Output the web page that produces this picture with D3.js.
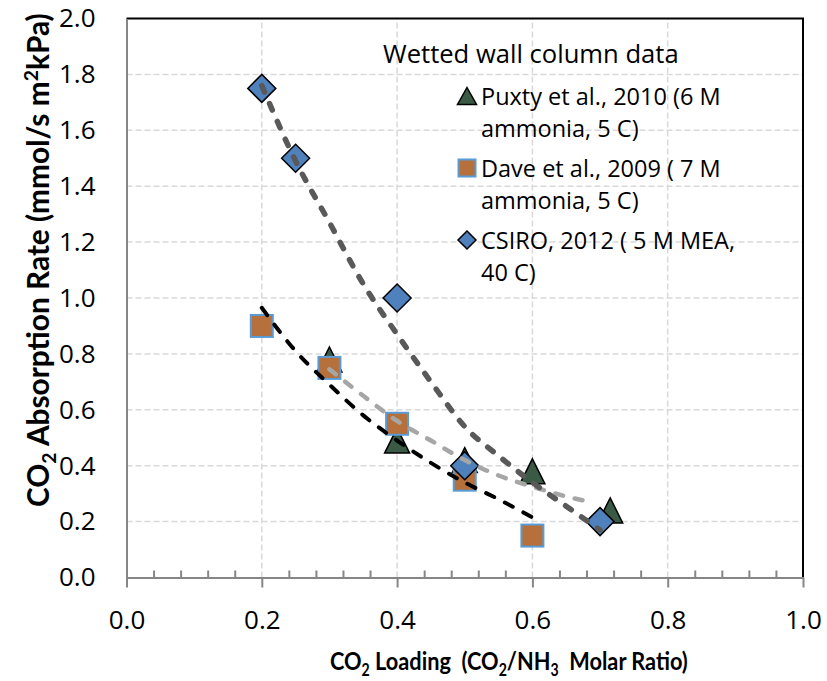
<!DOCTYPE html>
<html lang="en">
<head>
    <meta charset="UTF-8">
    <style>
        body { margin: 0; background: #fff; }
        .grid line { stroke: #d9d9d9; stroke-width: 1.5; stroke-dasharray: 6,3; }
        .tick text { font-family: "Open Sans", sans-serif; font-size: 26px; fill: #000; }
        .axis path, .axis line { stroke: #868686; stroke-width: 2; }
        .legend text { font-family: "Open Sans", sans-serif; fill: #000; }
        .title { font-family: Lato, sans-serif; font-weight: bold; fill: #000; }
    </style>
    <title>CO2 absorption rate</title>
</head>
<body>
<script src="https://d3js.org/d3.v7.min.js" charset="utf-8"></script>
<script>
    // data
    var puxtyX = [0.30, 0.40, 0.50, 0.60, 0.715];
    var puxtyY = [0.78, 0.49, 0.42, 0.38, 0.24];
    var daveX = [0.20, 0.30, 0.40, 0.50, 0.60];
    var daveY = [0.90, 0.75, 0.55, 0.35, 0.15];
    var csiroX = [0.20, 0.25, 0.40, 0.50, 0.70];
    var csiroY = [1.75, 1.50, 1.00, 0.40, 0.20];

    // trendlines as drawn in the source chart
    var trendCsiroX = [0.20, 0.25, 0.30, 0.35, 0.40, 0.45, 0.50, 0.55, 0.60, 0.65, 0.70];
    var trendCsiroY = [1.76, 1.49, 1.27, 1.05, 0.87, 0.70, 0.54, 0.435, 0.34, 0.255, 0.17];
    var trendDaveX = [0.20, 0.25, 0.30, 0.35, 0.40, 0.45, 0.50, 0.55, 0.60];
    var trendDaveY = [0.965, 0.81, 0.69, 0.58, 0.49, 0.41, 0.34, 0.28, 0.215];
    var trendPuxtyX = [0.30, 0.35, 0.40, 0.45, 0.50, 0.55, 0.60, 0.65, 0.69];
    var trendPuxtyY = [0.745, 0.65, 0.56, 0.49, 0.42, 0.365, 0.325, 0.29, 0.268];

    var xTicks = [0, 0.2, 0.4, 0.6, 0.8, 1.0];
    var yTicks = [0, 0.2, 0.4, 0.6, 0.8, 1.0, 1.2, 1.4, 1.6, 1.8, 2.0];

    var legendTitle = 'Wetted wall column data';
    var legendLines = [
        ['Puxty et al., 2010 (6 M', 'ammonia, 5 C)'],
        ['Dave et al., 2009 ( 7 M', 'ammonia, 5 C)'],
        ['CSIRO, 2012 ( 5 M MEA,', '40 C)']
    ];

    var width = 827, height = 681;
    var margin = {left: 126.5, top: 18.5, right: 24, bottom: 103.5};

    var svg = d3.select('body').append('svg').attr('width', width).attr('height', height);

    var x = d3.scaleLinear().domain([0, 1]).range([margin.left, width - margin.right]);
    var y = d3.scaleLinear().domain([0, 2]).range([height - margin.bottom, margin.top]);

    function zip(xs, ys) {
        return xs.map(function (v, i) { return [v, ys[i]]; });
    }

    // gridlines
    var grid = svg.append('g').attr('class', 'grid');
    grid.selectAll('.h').data(yTicks.slice(1, -1)).enter().append('line')
        .attr('x1', x(0)).attr('x2', x(1))
        .attr('y1', function (d) { return y(d); }).attr('y2', function (d) { return y(d); });
    grid.selectAll('.v').data(xTicks.slice(1, -1)).enter().append('line')
        .attr('y1', y(0)).attr('y2', y(2))
        .attr('x1', function (d) { return x(d); }).attr('x2', function (d) { return x(d); });

    // frame on top and right
    svg.append('path')
        .attr('d', 'M' + x(0) + ',' + y(2) + 'H' + x(1) + 'V' + y(0))
        .attr('fill', 'none').attr('stroke', '#000').attr('stroke-width', 2);

    // minor ticks on x axis
    svg.append('g').attr('class', 'axis')
        .attr('transform', 'translate(0,' + y(0) + ')')
        .call(d3.axisBottom(x).tickValues(d3.range(1, 25).filter(function (i) { return i % 5 !== 0; })
            .map(function (i) { return i * 0.04; })).tickSize(-7).tickFormat(''))
        .select('.domain').remove();

    var xAxis = svg.append('g').attr('class', 'axis')
        .attr('transform', 'translate(0,' + y(0) + ')')
        .call(d3.axisBottom(x).tickValues(xTicks).tickSize(10).tickSizeOuter(0)
            .tickPadding(23).tickFormat(d3.format('.1f')));

    var yAxis = svg.append('g').attr('class', 'axis')
        .attr('transform', 'translate(' + x(0) + ',0)')
        .call(d3.axisLeft(y).tickValues(yTicks).tickSize(0).tickSizeOuter(0)
            .tickPadding(31).tickFormat(d3.format('.1f')));
    yAxis.selectAll('.tick line').remove();
    svg.selectAll('.tick text').attr('font-family', null).attr('font-size', null);

    // markers
    function triangle(w, h) {
        return 'M0,' + (-h / 2) + 'L' + (w / 2) + ',' + (h / 2) + 'L' + (-w / 2) + ',' + (h / 2) + 'Z';
    }
    function diamond(s) {
        return 'M0,' + (-s / 2) + 'L' + (s / 2) + ',0L0,' + (s / 2) + 'L' + (-s / 2) + ',0Z';
    }
    var markerStyle = {
        tri: {fill: '#3b5a45', stroke: '#000', sw: 1.5},
        sq: {fill: '#b5703b', stroke: '#5b9bd5', sw: 2},
        dia: {fill: '#4f81bd', stroke: '#000', sw: 1.5}
    };

    svg.append('g').selectAll('path').data(zip(puxtyX, puxtyY)).enter().append('path')
        .attr('transform', function (d) { return 'translate(' + x(d[0]) + ',' + y(d[1]) + ')'; })
        .attr('d', triangle(25, 25))
        .attr('fill', markerStyle.tri.fill).attr('stroke', markerStyle.tri.stroke)
        .attr('stroke-width', markerStyle.tri.sw);

    svg.append('g').selectAll('rect').data(zip(daveX, daveY)).enter().append('rect')
        .attr('x', function (d) { return x(d[0]) - 11; })
        .attr('y', function (d) { return y(d[1]) - 11; })
        .attr('width', 22).attr('height', 22)
        .attr('fill', markerStyle.sq.fill).attr('stroke', markerStyle.sq.stroke)
        .attr('stroke-width', markerStyle.sq.sw);

    svg.append('g').selectAll('path').data(zip(csiroX, csiroY)).enter().append('path')
        .attr('transform', function (d) { return 'translate(' + x(d[0]) + ',' + y(d[1]) + ')'; })
        .attr('d', diamond(28))
        .attr('fill', markerStyle.dia.fill).attr('stroke', markerStyle.dia.stroke)
        .attr('stroke-width', markerStyle.dia.sw);

    // trendlines
    var line = d3.line()
        .x(function (d) { return x(d[0]); })
        .y(function (d) { return y(d[1]); })
        .curve(d3.curveMonotoneX);

    svg.append('path').datum(zip(trendDaveX, trendDaveY))
        .attr('d', line).attr('fill', 'none')
        .attr('stroke', '#000').attr('stroke-width', 4)
        .attr('stroke-dasharray', '9,12').attr('stroke-linecap', 'round');

    svg.append('path').datum(zip(trendPuxtyX, trendPuxtyY))
        .attr('d', line).attr('fill', 'none')
        .attr('stroke', '#a6a6a6').attr('stroke-width', 4.5)
        .attr('stroke-dasharray', '8,12').attr('stroke-linecap', 'round');

    svg.append('path').datum(zip(trendCsiroX, trendCsiroY))
        .attr('d', line).attr('fill', 'none')
        .attr('stroke', '#595959').attr('stroke-width', 5.5)
        .attr('stroke-dasharray', '7,12.5').attr('stroke-linecap', 'round');

    // legend
    var legend = svg.append('g').attr('class', 'legend');
    legend.append('text').attr('x', 383).attr('y', 63).attr('font-size', 25.6).text(legendTitle);

    var entryY = [96, 168, 240];
    legendLines.forEach(function (lines, i) {
        var g = legend.append('g');
        lines.forEach(function (t, j) {
            g.append('text').attr('x', 481).attr('y', entryY[i] + 9 + j * 32)
                .attr('font-size', 23.5).text(t);
        });
    });
    legend.append('path').attr('transform', 'translate(467,' + entryY[0] + ')')
        .attr('d', triangle(19, 17))
        .attr('fill', markerStyle.tri.fill).attr('stroke', '#000').attr('stroke-width', 1.5);
    legend.append('rect').attr('x', 467 - 8.5).attr('y', entryY[1] - 8.5)
        .attr('width', 17).attr('height', 17)
        .attr('fill', markerStyle.sq.fill).attr('stroke', markerStyle.sq.stroke).attr('stroke-width', 2);
    legend.append('path').attr('transform', 'translate(467,' + entryY[2] + ')')
        .attr('d', diamond(18))
        .attr('fill', markerStyle.dia.fill).attr('stroke', '#000').attr('stroke-width', 1.5);

    // axis titles: Calibri-like narrow bold, squeeze Lato along the text direction
    function squeeze(sel, target) {
        var len = sel.node().getComputedTextLength();
        sel.attr('transform', 'scale(' + (target / len) + ',1)');
    }

    var xTitleG = svg.append('g').attr('transform', 'translate(330,670)');
    var xTitle = xTitleG.append('text').attr('class', 'title')
        .attr('font-size', 25)
        .attr('xml:space', 'preserve').style('white-space', 'pre');
    xTitle.append('tspan').text('CO');
    xTitle.append('tspan').attr('dy', 6).attr('font-size', '0.65em').text('2');
    xTitle.append('tspan').attr('dy', -6).text(' Loading  (CO');
    xTitle.append('tspan').attr('dy', 6).attr('font-size', '0.65em').text('2');
    xTitle.append('tspan').attr('dy', -6).text('/NH');
    xTitle.append('tspan').attr('dy', 6).attr('font-size', '0.65em').text('3');
    xTitle.append('tspan').attr('dy', -6).text('  Molar Ratio)');
    squeeze(xTitle, 358);

    var yTitleG = svg.append('g').attr('transform', 'translate(49,507) rotate(-90)');
    var yTitle = yTitleG.append('text').attr('class', 'title')
        .attr('font-size', 30);
    yTitle.append('tspan').text('CO');
    yTitle.append('tspan').attr('dy', 7).attr('font-size', '0.65em').text('2');
    yTitle.append('tspan').attr('dy', -7).text(' Absorption Rate (mmol/s m');
    yTitle.append('tspan').attr('dy', -11).attr('font-size', '0.65em').text('2');
    yTitle.append('tspan').attr('dy', 11).text('kPa)');
    squeeze(yTitle, 494);
</script>
</body>
</html>
